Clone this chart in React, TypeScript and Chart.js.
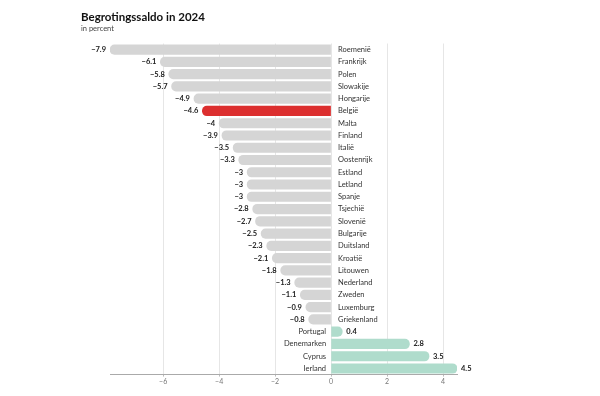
import React, { useEffect, useRef } from "react";
import { Chart, registerables } from "chart.js";

Chart.register(...registerables);

const countries: string[] = [
  "Roemenië", "Frankrijk", "Polen", "Slowakije", "Hongarije", "België", "Malta",
  "Finland", "Italië", "Oostenrijk", "Estland", "Letland", "Spanje", "Tsjechië",
  "Slovenië", "Bulgarije", "Duitsland", "Kroatië", "Litouwen", "Nederland",
  "Zweden", "Luxemburg", "Griekenland", "Portugal", "Denemarken", "Cyprus", "Ierland",
];
const balance: number[] = [
  -7.9, -6.1, -5.8, -5.7, -4.9, -4.6, -4, -3.9, -3.5, -3.3, -3, -3, -3, -2.8,
  -2.7, -2.5, -2.3, -2.1, -1.8, -1.3, -1.1, -0.9, -0.8, 0.4, 2.8, 3.5, 4.5,
];
const highlight = "België";
const xTicks: number[] = [-6, -4, -2, 0, 2, 4];
const title = "Begrotingssaldo in 2024";
const subtitle = "in percent";

const FONT = "Lato, 'Noto Sans', sans-serif";
const GREY = "#d5d5d5";
const RED = "#dc2f2f";
const TEAL = "#afdccc";

function fmt(v: number): string {
  const s = Math.abs(v).toString();
  return v < 0 ? "\u2212" + s : s;
}

const labelPlugin = {
  id: "labels",
  afterDatasetsDraw(chart: any) {
    const ctx = chart.ctx;
    const meta = chart.getDatasetMeta(0);
    const xs = chart.scales.x;
    const x0 = xs.getPixelForValue(0);
    ctx.save();
    ctx.textBaseline = "middle";
    meta.data.forEach((bar: any, i: number) => {
      const v = balance[i];
      const y = bar.y;
      ctx.font = `bold 7.5px ${FONT}`;
      ctx.fillStyle = "#222";
      if (v < 0) {
        ctx.textAlign = "right";
        ctx.fillText(fmt(v), bar.x - 4, y);
      } else {
        ctx.textAlign = "left";
        ctx.fillText(fmt(v), bar.x + 4, y);
      }
      ctx.font = `7.5px ${FONT}`;
      ctx.fillStyle = "#333";
      if (v < 0) {
        ctx.textAlign = "left";
        ctx.fillText(countries[i], x0 + 7, y);
      } else {
        ctx.textAlign = "right";
        ctx.fillText(countries[i], x0 - 5, y);
      }
    });
    ctx.restore();
  },
  afterDraw(chart: any) {
    const ctx = chart.ctx;
    ctx.save();
    ctx.textAlign = "left";
    ctx.textBaseline = "alphabetic";
    ctx.fillStyle = "#111";
    ctx.font = `bold 11.5px ${FONT}`;
    ctx.fillText(title, 81, 21);
    ctx.fillStyle = "#444";
    ctx.font = `7.5px ${FONT}`;
    ctx.fillText(subtitle, 81, 30.5);
    ctx.restore();
  },
};

export default function App() {
  const ref = useRef<HTMLCanvasElement>(null);
  useEffect(() => {
    document.body.style.margin = "0";
    const colors = countries.map((c, i) =>
      c === highlight ? RED : balance[i] < 0 ? GREY : TEAL
    );
    const chart = new Chart(ref.current as HTMLCanvasElement, {
      type: "bar",
      data: {
        labels: countries,
        datasets: [
          {
            data: balance,
            backgroundColor: colors,
            borderRadius: 5,
            barThickness: 9.5,
          },
        ],
      },
      options: {
        indexAxis: "y",
        animation: false,
        responsive: false,
        maintainAspectRatio: false,
        layout: { padding: { left: 110, right: 143, top: 43.5, bottom: 9 } },
        plugins: {
          legend: { display: false },
          tooltip: { enabled: false },
          title: { display: false },
        },
        scales: {
          y: { display: false },
          x: {
            min: -7.9,
            max: 4.5,
            afterBuildTicks: (axis: any) => {
              axis.ticks = xTicks.map((v) => ({ value: v }));
            },
            grid: {
              color: "#e6e6e6",
              lineWidth: 1,
              tickLength: 2,
              tickColor: "#bbb",
            },
            border: { color: "#aaa", width: 1 },
            ticks: {
              padding: 1,
              color: "#777",
              font: { size: 7, family: FONT },
              callback: (v: any) => fmt(Number(v)),
            },
          },
        },
      },
      plugins: [labelPlugin],
    });
    return () => chart.destroy();
  }, []);
  return <canvas ref={ref} width={600} height={396} style={{ display: "block" }} />;
}
